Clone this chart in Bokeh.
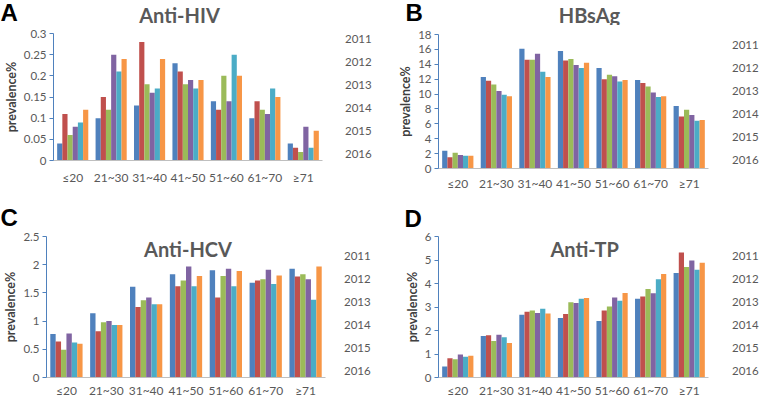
from bokeh.plotting import figure
from bokeh.models import (FactorRange, Range1d, FixedTicker, CustomJSTickFormatter,
                          Label, Legend, LegendItem, ColumnDataSource)
from bokeh.transform import dodge
from bokeh.layouts import row, column
from bokeh.embed import file_html
from bokeh.resources import INLINE

ages = ["≤20", "21~30", "31~40", "41~50", "51~60", "61~70", "≥71"]
years = ["2011", "2012", "2013", "2014", "2015", "2016"]
colors = ["#4F81BD", "#C0504D", "#9BBB59", "#8064A2", "#4BACC6", "#F79646"]

# values per year (rows) across age groups (columns)
hiv = [
    [0.04, 0.10, 0.13, 0.23, 0.14, 0.10, 0.04],
    [0.11, 0.15, 0.28, 0.21, 0.12, 0.14, 0.03],
    [0.06, 0.12, 0.18, 0.18, 0.20, 0.12, 0.02],
    [0.08, 0.25, 0.16, 0.19, 0.14, 0.11, 0.08],
    [0.09, 0.21, 0.17, 0.17, 0.25, 0.17, 0.03],
    [0.12, 0.24, 0.24, 0.19, 0.20, 0.15, 0.07],
]
hbsag = [
    [2.4, 12.3, 16.1, 15.8, 13.5, 11.9, 8.4],
    [1.5, 11.8, 14.6, 14.5, 12.0, 11.5, 7.0],
    [2.1, 11.3, 14.6, 14.7, 12.6, 11.0, 7.9],
    [1.8, 10.4, 15.4, 13.9, 12.4, 10.2, 7.2],
    [1.7, 9.9, 13.0, 13.5, 11.7, 9.6, 6.4],
    [1.7, 9.7, 12.3, 14.2, 11.9, 9.7, 6.5],
]
hcv = [
    [0.77, 1.14, 1.61, 1.83, 1.90, 1.68, 1.93],
    [0.64, 0.82, 1.25, 1.62, 1.42, 1.72, 1.79],
    [0.49, 0.98, 1.37, 1.72, 1.80, 1.74, 1.83],
    [0.78, 1.00, 1.42, 1.97, 1.93, 1.91, 1.74],
    [0.62, 0.93, 1.30, 1.62, 1.62, 1.66, 1.38],
    [0.60, 0.93, 1.30, 1.80, 1.89, 1.81, 1.97],
]
tp = [
    [0.47, 1.77, 2.67, 2.53, 2.40, 3.35, 4.45],
    [0.82, 1.80, 2.80, 2.70, 2.85, 3.45, 5.32],
    [0.78, 1.55, 2.85, 3.20, 3.02, 3.77, 4.70],
    [0.98, 1.82, 2.75, 3.17, 3.40, 3.58, 4.98],
    [0.88, 1.71, 2.93, 3.35, 3.27, 4.18, 4.58],
    [0.93, 1.47, 2.72, 3.38, 3.60, 4.40, 4.88],
]
hiv_ticks = [0, 0.05, 0.1, 0.15, 0.2, 0.25, 0.3]
hbsag_ticks = [0, 2, 4, 6, 8, 10, 12, 14, 16, 18]
hcv_ticks = [0, 0.5, 1, 1.5, 2, 2.5]
tp_ticks = [0, 1, 2, 3, 4, 5, 6]

GREY = "#595959"
BW = 0.135
TITLE_SIZE = "20px"


def plain_fig(W, H, top=0, bottom=0):
    f = figure(width=W, height=H, x_range=Range1d(0, W), y_range=Range1d(0, H - top - bottom),
               x_axis_type=None, y_axis_type=None, output_backend="svg",
               toolbar_location=None, min_border_left=0, min_border_top=top,
               min_border_right=0, min_border_bottom=bottom)
    f.outline_line_color = None
    return f


def header(W, HH, letter, letter_xy, title=None, title_xy=None):
    h = plain_fig(W, HH)
    h.add_layout(Label(x=letter_xy[0], y=letter_xy[1], text=letter,
                       text_font="Liberation Sans", text_font_style="bold",
                       text_font_size="24px", text_color="black",
                       text_align="left", text_baseline="middle"))
    if title is not None:
        h.add_layout(Label(x=title_xy[0], y=title_xy[1], text=title,
                           text_font="Lato", text_font_style="bold",
                           text_font_size=TITLE_SIZE, text_color=GREY,
                           text_align="center", text_baseline="middle"))
    return h


def legend_fig(W, H, top, bottom, leg_xy):
    # same top/bottom borders as the chart beside it, so the row keeps them
    f = plain_fig(W, H, top, bottom)
    items = []
    for yr, col in zip(years, colors):
        r = f.vbar(x=[], top=[], width=1, fill_color=col, line_color=None)
        items.append(LegendItem(label=yr, renderers=[r]))
    leg = Legend(items=items, location=leg_xy, orientation="vertical",
                 glyph_width=7, glyph_height=7, label_height=12,
                 label_standoff=3, spacing=10, padding=0, margin=0,
                 border_line_color=None, background_fill_alpha=0,
                 label_text_font="Lato", label_text_font_size="11.5px",
                 label_text_color=GREY)
    f.add_layout(leg)
    return f


def chart(data, ticks, W, H, fl, fw, ft, fh, xstand, title=None, title_x=None):
    p = figure(width=W, height=H, x_range=FactorRange(*ages),
               y_range=Range1d(ticks[0], ticks[-1]),
               output_backend="svg", toolbar_location=None,
               min_border_left=fl, min_border_right=W - fl - fw,
               min_border_top=ft, min_border_bottom=H - ft - fh)
    p.outline_line_color = None
    p.xgrid.grid_line_color = None
    p.ygrid.grid_line_color = None

    for i, (col, vals) in enumerate(zip(colors, data)):
        src = ColumnDataSource(dict(age=ages, v=vals))
        p.vbar(x=dodge("age", (i - 2.5) * BW, range=p.x_range), top="v",
               width=BW, source=src, fill_color=col, line_color=None)

    yax = p.yaxis[0]
    yax.ticker = FixedTicker(ticks=ticks)
    yax.formatter = CustomJSTickFormatter(code="return String(tick);")
    yax.axis_line_color = "#4F81BD"
    yax.major_tick_line_color = "#4F81BD"
    yax.minor_tick_line_color = None
    yax.major_tick_out = 4
    yax.major_tick_in = 0
    yax.major_label_standoff = 3
    yax.major_label_text_font = "Lato"
    yax.major_label_text_font_size = "11.5px"
    yax.major_label_text_color = GREY
    yax.axis_label = "prevalence%"
    yax.axis_label_standoff = 2
    yax.axis_label_text_font = "Lato"
    yax.axis_label_text_font_style = "bold"
    yax.axis_label_text_font_size = "12.5px"
    yax.axis_label_text_color = "#404040"

    xax = p.xaxis[0]
    xax.axis_line_color = "#BFBFBF"
    xax.major_tick_line_color = None
    xax.minor_tick_line_color = None
    xax.major_tick_out = 0
    xax.major_tick_in = 0
    xax.major_label_standoff = xstand
    xax.major_label_text_font = "Lato"
    xax.major_label_text_font_size = "12px"
    xax.major_label_text_color = GREY

    if title is not None:
        p.add_layout(Label(x=title_x, y=ticks[-1], text=title,
                           text_font="Lato", text_font_style="bold",
                           text_font_size=TITLE_SIZE, text_color=GREY,
                           text_align="center", text_baseline="top"))
    return p


# Left column 378 wide, right column 382 wide.
# Top row: header 25 + chart 172 ; bottom row: header 30 + chart 173
hA = header(378, 25, "A", (0, 13.5), "Anti-HIV", (179, 11))
pA = chart(hiv, hiv_ticks, 326, 172, 44, 278, 8, 127, 9)
lA = legend_fig(52, 172, 8, 37, (9, 0))

hB = header(382, 25, "B", (27, 13.5), "HBsAg", (211, 11))
pB = chart(hbsag, hbsag_ticks, 334, 172, 60, 270, 9, 134, 7)
lB = legend_fig(48, 172, 9, 29, (10, 2))

hC = header(378, 30, "C", (0, 10))
pC = chart(hcv, hcv_ticks, 329, 173, 41, 284, 9, 142, 5, "Anti-HCV", 3.55)
lC = legend_fig(49, 173, 9, 22, (5, 0))

hD = header(382, 30, "D", (26, 9))
pD = chart(tp, tp_ticks, 334, 173, 60, 270, 9, 142, 5, "Anti-TP", 3.79)
lD = legend_fig(48, 173, 9, 22, (10, 0))

left = column(hA, row(pA, lA), hC, row(pC, lC))
right = column(hB, row(pB, lB), hD, row(pD, lD))
layout = row(left, right)
open("out.html", "w").write(file_html(layout, INLINE))
